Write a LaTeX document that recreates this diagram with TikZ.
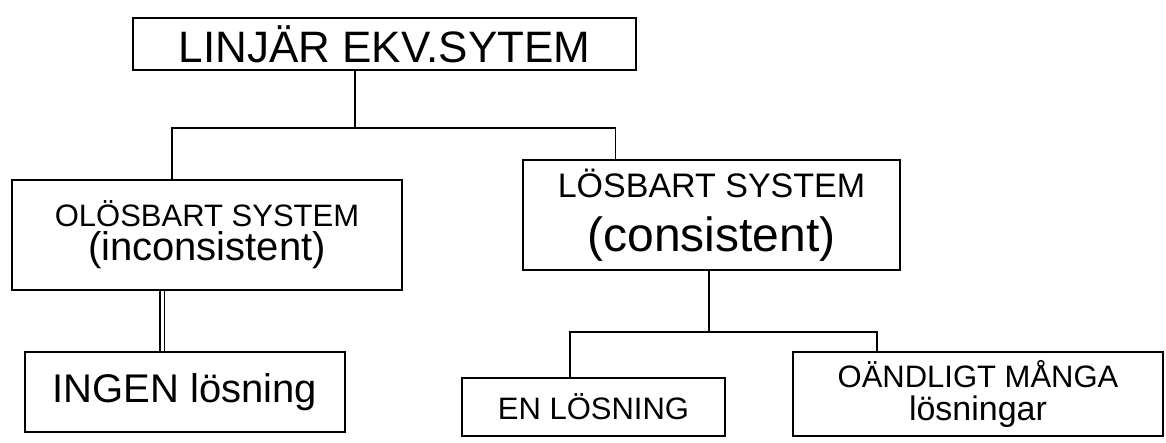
\documentclass[tikz,border=0pt]{standalone}
\usepackage{fontspec}
\setmainfont{Liberation Sans}
\newcommand{\fsz}[2]{\fontsize{#1}{#2}\selectfont}
\begin{document}
\begin{tikzpicture}[x=1pt,y=-1pt,
  box/.style={draw, line width=1.8pt, inner sep=0pt, align=center},
  conn/.style={line width=1.8pt},
  dconn/.style={double, double distance=3pt, line width=1.5pt}]
\useasboundingbox (0,0) rectangle (1166,443);

\node[box, minimum width=503pt, minimum height=52pt] (top) at (384.5,44)
  {\fsz{44}{44}LINJÄR EKV.SYTEM};

\node[box, minimum width=390pt, minimum height=110pt] (lm) at (207,235)
  {\fsz{31}{31}OLÖSBART SYSTEM\\[4pt]\fsz{40}{40}(inconsistent)};

\node[box, minimum width=377pt, minimum height=110pt] (rm) at (711.5,215)
  {\fsz{34}{34}LÖSBART SYSTEM\\[18pt]\fsz{48}{48}(consistent)};

\node[box, minimum width=320pt, minimum height=80pt] (ingen) at (185,392)
  {\fsz{40}{40}INGEN lösning};

\node[box, minimum width=263pt, minimum height=58pt] (en) at (593.5,407)
  {\fsz{31}{31}EN LÖSNING};

\node[box, minimum width=370pt, minimum height=84pt] (oa) at (978,394)
  {\fsz{31}{31}OÄNDLIGT MÅNGA\\[7pt]\fsz{34}{34}lösningar};

\coordinate (j1) at (355,128);
\coordinate (j2) at (709,332);

\draw[conn] (top.south -| j1) -- (j1);
\draw[conn] ([xshift=-35pt]lm.north) |- (j1) -| ([xshift=-96pt]rm.north);

\draw[dconn] ([xshift=-45pt]lm.south) -- ([xshift=-23pt]ingen.north);

\draw[conn] (rm.south -| j2) -- (j2);
\draw[conn] ([xshift=-23.5pt]en.north) |- (j2) -| ([xshift=-101pt]oa.north);
\end{tikzpicture}
\end{document}
